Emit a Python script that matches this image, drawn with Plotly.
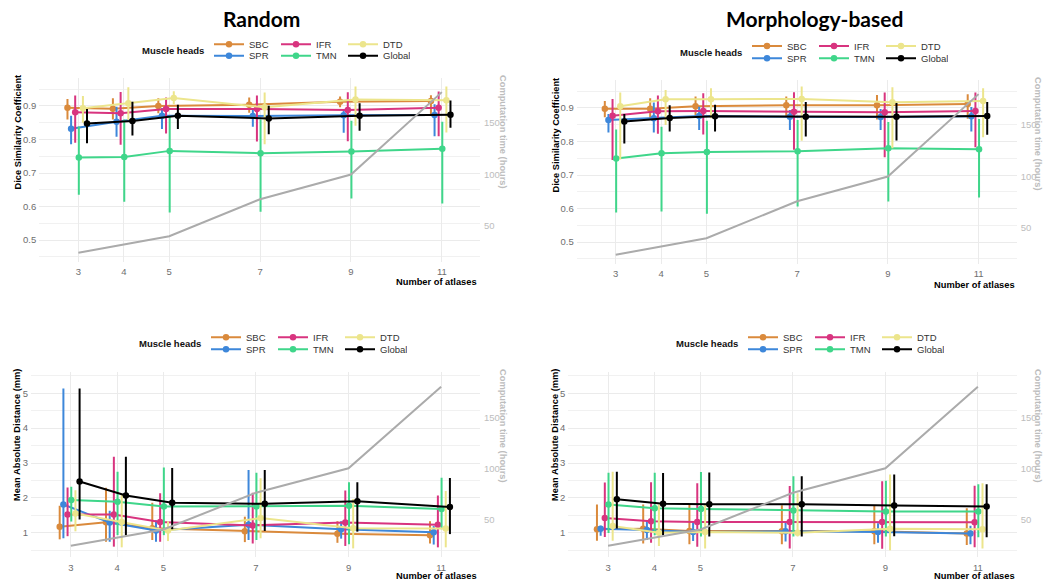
import plotly.graph_objects as go

W, H = 1043, 582

# ---------------- data ----------------
atlases = [3, 4, 5, 7, 9, 11]
heads = ["SBC", "SPR", "IFR", "TMN", "DTD", "Global"]
computation_hours = [24, 32, 40, 76, 100, 180]

# Random selection - Dice Similarity Coefficient
random_dsc_mean = {
    "SBC": [0.895, 0.892, 0.900, 0.904, 0.913, 0.915],
    "SPR": [0.832, 0.853, 0.871, 0.870, 0.872, 0.873],
    "IFR": [0.881, 0.878, 0.891, 0.891, 0.888, 0.895],
    "TMN": [0.746, 0.748, 0.766, 0.759, 0.764, 0.772],
    "DTD": [0.893, 0.908, 0.924, 0.896, 0.919, 0.917],
    "Global": [0.848, 0.855, 0.871, 0.863, 0.871, 0.874],
}
random_dsc_low = {
    "SBC": [0.860, 0.860, 0.878, 0.880, 0.896, 0.870],
    "SPR": [0.786, 0.808, 0.831, 0.838, 0.820, 0.810],
    "IFR": [0.790, 0.784, 0.818, 0.794, 0.795, 0.810],
    "TMN": [0.635, 0.614, 0.582, 0.584, 0.624, 0.609],
    "DTD": [0.850, 0.858, 0.905, 0.786, 0.841, 0.821],
    "Global": [0.789, 0.812, 0.831, 0.816, 0.826, 0.835],
}
random_dsc_high = {
    "SBC": [0.921, 0.923, 0.923, 0.925, 0.928, 0.932],
    "SPR": [0.871, 0.898, 0.894, 0.892, 0.888, 0.905],
    "IFR": [0.931, 0.942, 0.925, 0.931, 0.941, 0.943],
    "TMN": [0.839, 0.860, 0.870, 0.860, 0.856, 0.853],
    "DTD": [0.930, 0.956, 0.944, 0.940, 0.958, 0.958],
    "Global": [0.891, 0.913, 0.904, 0.901, 0.908, 0.916],
}

# Morphology-based selection - Dice Similarity Coefficient
morph_dsc_mean = {
    "SBC": [0.898, 0.898, 0.905, 0.908, 0.908, 0.912],
    "SPR": [0.864, 0.869, 0.876, 0.874, 0.873, 0.875],
    "IFR": [0.877, 0.890, 0.891, 0.889, 0.887, 0.891],
    "TMN": [0.749, 0.765, 0.769, 0.771, 0.780, 0.777],
    "DTD": [0.905, 0.926, 0.926, 0.927, 0.917, 0.921],
    "Global": [0.860, 0.870, 0.875, 0.874, 0.874, 0.876],
}
morph_dsc_low = {
    "SBC": [0.872, 0.867, 0.876, 0.872, 0.866, 0.868],
    "SPR": [0.827, 0.827, 0.834, 0.834, 0.834, 0.830],
    "IFR": [0.745, 0.823, 0.821, 0.775, 0.753, 0.783],
    "TMN": [0.588, 0.591, 0.584, 0.606, 0.621, 0.633],
    "DTD": [0.746, 0.849, 0.869, 0.802, 0.780, 0.813],
    "Global": [0.794, 0.830, 0.830, 0.815, 0.803, 0.820],
}
morph_dsc_high = {
    "SBC": [0.921, 0.929, 0.934, 0.934, 0.939, 0.941],
    "SPR": [0.882, 0.916, 0.904, 0.894, 0.897, 0.903],
    "IFR": [0.927, 0.937, 0.944, 0.947, 0.946, 0.946],
    "TMN": [0.836, 0.844, 0.862, 0.864, 0.858, 0.867],
    "DTD": [0.946, 0.954, 0.959, 0.964, 0.962, 0.959],
    "Global": [0.882, 0.908, 0.910, 0.918, 0.915, 0.918],
}

# Random selection - Mean Absolute Distance (mm)
random_mad_mean = {
    "SBC": [1.17, 1.30, 1.13, 1.04, 0.97, 0.93],
    "SPR": [1.81, 1.29, 1.06, 1.23, 1.10, 1.01],
    "IFR": [1.52, 1.52, 1.31, 1.21, 1.29, 1.23],
    "TMN": [1.94, 1.89, 1.75, 1.75, 1.77, 1.68],
    "DTD": [1.55, 1.31, 1.06, 1.42, 1.13, 1.12],
    "Global": [2.47, 2.07, 1.86, 1.83, 1.90, 1.74],
}
random_mad_low = {
    "SBC": [0.81, 0.74, 0.79, 0.73, 0.71, 0.69],
    "SPR": [0.84, 0.74, 0.74, 0.79, 0.83, 0.66],
    "IFR": [0.90, 0.60, 0.74, 0.69, 0.62, 0.58],
    "TMN": [1.32, 0.93, 0.93, 0.79, 0.67, 1.10],
    "DTD": [1.04, 0.58, 0.76, 0.84, 0.55, 0.58],
    "Global": [1.38, 0.93, 1.10, 1.05, 1.03, 0.96],
}
random_mad_high = {
    "SBC": [1.77, 2.29, 1.86, 1.46, 1.33, 1.33],
    "SPR": [5.14, 1.63, 1.36, 2.80, 1.33, 1.19],
    "IFR": [2.30, 3.18, 2.13, 2.15, 2.21, 2.07],
    "TMN": [2.32, 2.75, 2.87, 2.72, 2.45, 2.58],
    "DTD": [2.22, 2.11, 1.33, 2.56, 1.97, 2.20],
    "Global": [5.14, 3.18, 2.86, 2.80, 2.45, 2.57],
}

# Morphology-based selection - Mean Absolute Distance (mm)
morph_mad_mean = {
    "SBC": [1.10, 1.11, 1.05, 1.04, 1.04, 0.98],
    "SPR": [1.11, 1.08, 1.02, 1.04, 1.02, 0.98],
    "IFR": [1.42, 1.33, 1.31, 1.31, 1.31, 1.30],
    "TMN": [1.81, 1.70, 1.68, 1.64, 1.61, 1.61],
    "DTD": [1.19, 1.00, 1.02, 1.00, 1.11, 1.10],
    "Global": [1.96, 1.83, 1.82, 1.82, 1.78, 1.75],
}
morph_mad_low = {
    "SBC": [0.77, 0.69, 0.67, 0.67, 0.67, 0.65],
    "SPR": [0.91, 0.79, 0.76, 0.75, 0.71, 0.67],
    "IFR": [0.88, 0.71, 0.60, 0.55, 0.54, 0.58],
    "TMN": [0.99, 0.93, 0.89, 0.89, 0.89, 0.87],
    "DTD": [0.77, 0.62, 0.55, 0.89, 0.50, 0.55],
    "Global": [1.12, 0.93, 0.89, 0.89, 0.90, 0.87],
}
morph_mad_high = {
    "SBC": [1.81, 1.81, 1.81, 1.79, 1.77, 1.70],
    "SPR": [1.20, 1.36, 1.30, 1.30, 1.27, 1.20],
    "IFR": [2.44, 2.45, 2.42, 2.34, 2.48, 2.35],
    "TMN": [2.72, 2.72, 2.74, 2.62, 2.49, 2.39],
    "DTD": [2.75, 1.81, 1.81, 2.13, 2.67, 2.42],
    "Global": [2.75, 2.71, 2.73, 2.62, 2.67, 2.39],
}

# ---------------- style ----------------
colors = {
    "SBC": "#DA8A3C",
    "SPR": "#3D87DA",
    "IFR": "#D8347F",
    "TMN": "#3FD68A",
    "DTD": "#ECE58C",
    "Global": "#000000",
}
dodge = {"SBC": -0.24, "SPR": -0.16, "IFR": -0.07, "TMN": 0.01, "DTD": 0.10, "Global": 0.19}
legend_row = {"SBC": 0, "IFR": 0, "DTD": 0, "SPR": 1, "TMN": 1, "Global": 1}

FONT = "Liberation Sans, Arial, sans-serif"
TICK_COLOR = "#6E6E6E"
SEC_COLOR = "#BDBDBD"
GRID = "#EBEBEB"
MINOR_GRID = "#F1F1F1"


def px_x(p):
    return p / W


def px_y(p):
    return 1 - p / H


panels = [
    dict(mean=random_dsc_mean, low=random_dsc_low, high=random_dsc_high,
         xa="xaxis", ya="yaxis", ya2="yaxis2", xdom=(39.3, 480.0), ydom=(77.5, 261.8),
         yrange=(0.435, 0.985), y2range=(15.2, 194.2), dtick=0.1, fmt=".1f",
         legends=("legend", "legend2"), leg_title_right=206, leg_rows=(44.3, 55.7),
         ytitle="Dice Similarity Coefficient", yt_x=17, yt_top=73,
         xt_right=479, xt_y=282, st_x=503, st_top=73),
    dict(mean=morph_dsc_mean, low=morph_dsc_low, high=morph_dsc_high,
         xa="xaxis2", ya="yaxis3", ya2="yaxis4", xdom=(576.7, 1016.7), ydom=(79.5, 263.8),
         yrange=(0.435, 0.985), y2range=(15.2, 194.2), dtick=0.1, fmt=".1f",
         legends=("legend3", "legend4"), leg_title_right=744, leg_rows=(46.0, 58.3),
         ytitle="Dice Similarity Coefficient", yt_x=555, yt_top=76,
         xt_right=1016.7, xt_y=285, st_x=1038, st_top=75),
    dict(mean=random_mad_mean, low=random_mad_low, high=random_mad_high,
         xa="xaxis3", ya="yaxis5", ya2="yaxis6", xdom=(31.0, 480.0), ydom=(372.4, 557.1),
         yrange=(0.3, 5.6), y2range=(12.9, 194.0), dtick=1, fmt="d",
         legends=("legend5", "legend6"), leg_title_right=203, leg_rows=(337.3, 349.3),
         ytitle="Mean Absolute Distance (mm)", yt_x=17, yt_top=367,
         xt_right=479, xt_y=576, st_x=503, st_top=367),
    dict(mean=morph_mad_mean, low=morph_mad_low, high=morph_mad_high,
         xa="xaxis4", ya="yaxis7", ya2="yaxis8", xdom=(568.3, 1016.7), ydom=(372.4, 557.1),
         yrange=(0.3, 5.6), y2range=(12.9, 194.0), dtick=1, fmt="d",
         legends=("legend7", "legend8"), leg_title_right=740, leg_rows=(337.3, 349.3),
         ytitle="Mean Absolute Distance (mm)", yt_x=555, yt_top=367,
         xt_right=1016.7, xt_y=576, st_x=1038, st_top=367),
]

fig = go.Figure()
layout = {}
annotations = []

for p in panels:
    xref = "x" + p["xa"][5:]
    yref = "y" + p["ya"][5:]
    y2ref = "y" + p["ya2"][5:]

    for h in heads:
        m = p["mean"][h]
        lo = p["low"][h]
        hi = p["high"][h]
        fig.add_trace(go.Scatter(
            x=[a + dodge[h] for a in atlases], y=m,
            mode="lines+markers", name=h,
            line=dict(color=colors[h], width=2),
            marker=dict(color=colors[h], size=6.5),
            error_y=dict(type="data", symmetric=False,
                         array=[u - v for u, v in zip(hi, m)],
                         arrayminus=[v - l for v, l in zip(m, lo)],
                         color=colors[h], thickness=2, width=0),
            legend=p["legends"][legend_row[h]],
            xaxis=xref, yaxis=yref, hoverinfo="skip",
        ))
    fig.add_trace(go.Scatter(
        x=atlases, y=computation_hours, mode="lines",
        line=dict(color="#ABABAB", width=2), showlegend=False,
        xaxis=xref, yaxis=y2ref, hoverinfo="skip",
    ))

    layout[p["xa"]] = dict(
        domain=[px_x(p["xdom"][0]), px_x(p["xdom"][1])], anchor=yref,
        range=[2.14, 11.84], tickvals=atlases, ticktext=[str(a) for a in atlases],
        showgrid=True, gridcolor=GRID, gridwidth=1, zeroline=False, showline=False,
        ticks="", ticklabelstandoff=3,
        tickfont=dict(family=FONT, size=9.5, color=TICK_COLOR), automargin=False,
    )
    layout[p["ya"]] = dict(
        domain=[px_y(p["ydom"][1]), px_y(p["ydom"][0])], anchor=xref,
        range=list(p["yrange"]), dtick=p["dtick"], tick0=0, tickformat=p["fmt"],
        showgrid=True, gridcolor=GRID, gridwidth=1, zeroline=False, showline=False,
        minor=dict(dtick=p["dtick"] / 2, tick0=0, showgrid=True, gridcolor=MINOR_GRID, gridwidth=0.7),
        ticks="", ticklabelstandoff=2,
        tickfont=dict(family=FONT, size=9.5, color=TICK_COLOR), automargin=False,
    )
    layout[p["ya2"]] = dict(
        overlaying=yref, anchor=xref, side="right",
        range=list(p["y2range"]), tickvals=[50, 100, 150],
        showgrid=False, zeroline=False, showline=False, ticks="", ticklabelstandoff=3,
        tickfont=dict(family=FONT, size=9.5, color=SEC_COLOR), automargin=False,
    )
    for k, leg in enumerate(p["legends"]):
        layout[leg] = dict(
            orientation="h", x=px_x(p["leg_title_right"] + 3), xanchor="left",
            y=px_y(p["leg_rows"][k]), yanchor="middle",
            font=dict(family=FONT, size=9.5, color="#333333"),
            itemwidth=30, entrywidth=22, entrywidthmode="pixels",
            bgcolor="rgba(0,0,0,0)",
        )
    annotations.append(dict(
        text="<b>Muscle heads</b>", showarrow=False,
        xref="paper", yref="paper", x=px_x(p["leg_title_right"]),
        y=px_y(sum(p["leg_rows"]) / 2), xanchor="right", yanchor="middle",
        font=dict(family=FONT, size=9.5, color="#111111"),
    ))

    annotations.append(dict(
        text="<b>" + p["ytitle"] + "</b>", textangle=-90, showarrow=False,
        xref="paper", yref="paper", x=px_x(p["yt_x"]), y=px_y(p["yt_top"]),
        xanchor="center", yanchor="top",
        font=dict(family=FONT, size=9.3, color="#000000"),
    ))
    annotations.append(dict(
        text="<b>Number of atlases</b>", showarrow=False,
        xref="paper", yref="paper", x=px_x(p["xt_right"]), y=px_y(p["xt_y"]),
        xanchor="right", yanchor="middle",
        font=dict(family=FONT, size=9.3, color="#000000"),
    ))
    annotations.append(dict(
        text="<b>Computation time (hours)</b>", textangle=90, showarrow=False,
        xref="paper", yref="paper", x=px_x(p["st_x"]), y=px_y(p["st_top"]),
        xanchor="center", yanchor="top",
        font=dict(family=FONT, size=9.3, color=SEC_COLOR),
    ))

annotations.append(dict(
    text="<b>Random</b>", showarrow=False, xref="paper", yref="paper",
    x=px_x(261.5), y=px_y(18), xanchor="center", yanchor="middle",
    font=dict(family="Lato, Liberation Sans, sans-serif", size=21, color="#000000"),
))
annotations.append(dict(
    text="<b>Morphology-based</b>", showarrow=False, xref="paper", yref="paper",
    x=px_x(814), y=px_y(18), xanchor="center", yanchor="middle",
    font=dict(family="Lato, Liberation Sans, sans-serif", size=21, color="#000000"),
))

fig.update_layout(
    width=W, height=H, margin=dict(l=0, r=0, t=0, b=0),
    template="none", paper_bgcolor="white", plot_bgcolor="white",
    font=dict(family=FONT, size=9.5, color="#333333"),
    annotations=annotations, showlegend=True, hovermode=False,
    **layout,
)

fig.write_html(
    "out.html",
    config={"displayModeBar": False, "staticPlot": False},
    post_script="document.body.style.margin='0px';document.body.style.padding='0px';"
                "document.body.style.overflow='hidden';",
)
